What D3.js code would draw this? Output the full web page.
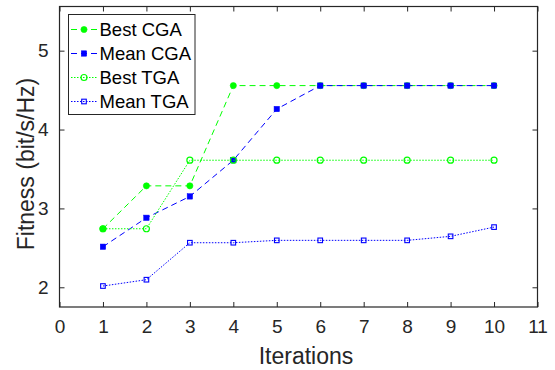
<!DOCTYPE html>
<html><head><meta charset="utf-8">
<script src="https://cdn.jsdelivr.net/npm/d3@7"></script>
<style>
body{margin:0;background:#fff;}
svg{display:block;font-family:"Liberation Sans",Arial,Helvetica,sans-serif;}
</style></head>
<body><svg id="c" width="555" height="370"></svg>
<script>
const iterations = [1,2,3,4,5,6,7,8,9,10];
const bestCGA  = [2.742,3.286,3.286,4.557,4.557,4.557,4.557,4.557,4.557,4.557];
const meanCGA  = [2.514,2.881,3.152,3.611,4.260,4.557,4.557,4.557,4.557,4.557];
const bestTGA  = [2.742,2.742,3.611,3.611,3.611,3.611,3.611,3.611,3.611,3.611];
const meanTGA  = [2.016,2.096,2.565,2.565,2.595,2.595,2.595,2.595,2.646,2.763];
const seriesNames = ["Best CGA","Mean CGA","Best TGA","Mean TGA"];
const xTicks = [0,1,2,3,4,5,6,7,8,9,10,11];
const yTicks = [2,3,4,5];

const styles = [
  {color:"#00ff00", dash:"6,4", marker:"circle", fill:true},
  {color:"#0000ff", dash:"6,4", marker:"square", fill:true},
  {color:"#00ff00", dash:"1.5,1.5", marker:"circle", fill:false},
  {color:"#0000ff", dash:"1.5,1.5", marker:"square", fill:false}
];
const allSeries = [bestCGA, meanCGA, bestTGA, meanTGA];

const svg = d3.select("#c");
const L = 59.5, R = 537.5, T = 6.5, B = 307;
const x = d3.scaleLinear().domain([0,11]).range([L,R]);
const y = d3.scaleLinear().domain([1.75,5.56]).range([B,T]);
const axisColor = "#262626";

const line = d3.line().x((d,i)=>x(iterations[i])).y(d=>y(d));
const g = svg.append("g");
allSeries.forEach((s,k)=>{
  const st = styles[k];
  g.append("path").attr("d", line(s)).attr("fill","none")
    .attr("stroke", st.color).attr("stroke-width", 1)
    .attr("stroke-dasharray", st.dash);
  s.forEach((v,i)=>drawMarker(g, x(iterations[i]), y(v), st));
});

function drawMarker(sel, cx, cy, st){
  if(st.marker==="circle"){
    sel.append("circle").attr("cx",cx).attr("cy",cy).attr("r", st.fill?3.1:3.0)
      .attr("fill", st.fill?st.color:"none").attr("stroke",st.color).attr("stroke-width",st.fill?0.6:1.2);
  } else {
    const s = st.fill?5.4:4.6;
    sel.append("rect").attr("x",cx-s/2).attr("y",cy-s/2).attr("width",s).attr("height",s)
      .attr("fill", st.fill?st.color:"none").attr("stroke",st.color).attr("stroke-width",st.fill?0.5:1.1);
  }
}

const fs = 19;
const xAxis = svg.append("g").attr("transform",`translate(0,${B})`)
  .call(d3.axisBottom(x).tickValues(xTicks).tickSize(-5).tickPadding(13).tickFormat(d3.format("d")));
const xTop = svg.append("g").attr("transform",`translate(0,${T})`)
  .call(d3.axisTop(x).tickValues(xTicks).tickSize(-5).tickFormat(""));
const yAxis = svg.append("g").attr("transform",`translate(${L},0)`)
  .call(d3.axisLeft(y).tickValues(yTicks).tickSize(-5).tickPadding(11).tickFormat(d3.format("d")));
const yRight = svg.append("g").attr("transform",`translate(${R},0)`)
  .call(d3.axisRight(y).tickValues(yTicks).tickSize(-5).tickFormat(""));
[xAxis,xTop,yAxis,yRight].forEach(a=>{
  a.select(".domain").attr("d", null);
  a.selectAll(".tick line").attr("stroke",axisColor).attr("stroke-width",1);
  a.selectAll("text").attr("fill",axisColor).style("font-size",fs+"px").style("font-family","Liberation Sans, Arial, sans-serif");
});
svg.append("rect").attr("x",L).attr("y",T).attr("width",R-L).attr("height",B-T)
  .attr("fill","none").attr("stroke",axisColor).attr("stroke-width",1.2);

svg.append("text").attr("x",306).attr("y",364).attr("text-anchor","middle")
  .attr("fill",axisColor).style("font-size","23px").text("Iterations");
svg.append("text").attr("transform","translate(34,164) rotate(-90)").attr("text-anchor","middle")
  .attr("fill",axisColor).style("font-size","23px").text("Fitness (bit/s/Hz)");

const lg = svg.append("g");
lg.append("rect").attr("x",68.5).attr("y",14.5).attr("width",126.5).attr("height",100)
  .attr("fill","#fff").attr("stroke",axisColor).attr("stroke-width",1);
seriesNames.forEach((n,k)=>{
  const st = styles[k];
  const yy = 29.5 + k*24;
  lg.append("line").attr("x1",71).attr("x2",97).attr("y1",yy).attr("y2",yy)
    .attr("stroke",st.color).attr("stroke-width",1).attr("stroke-dasharray",st.dash);
  drawMarker(lg, 84, yy, st);
  lg.append("text").attr("x",99.5).attr("y",yy+6.5).attr("fill","#000")
    .style("font-size","18.5px").text(n);
});
</script></body></html>
